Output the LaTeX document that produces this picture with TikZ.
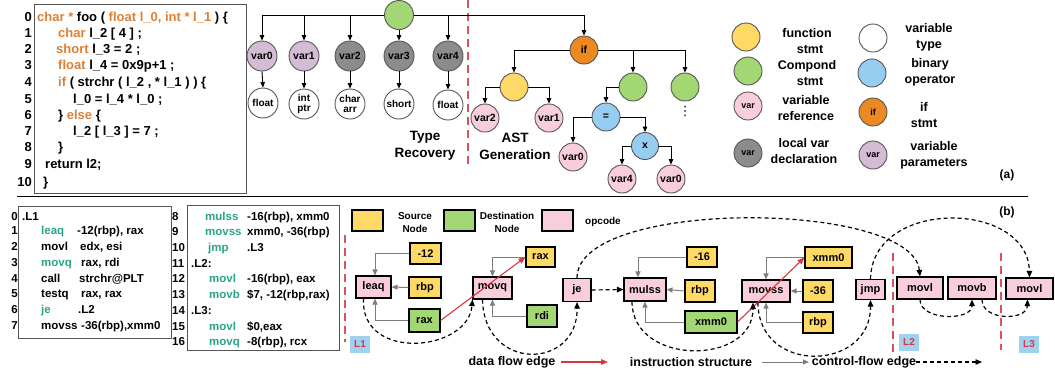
\documentclass[tikz,border=0pt]{standalone}
\usepackage{fontspec}
\setmainfont{Liberation Sans}
\newfontfamily\djv{DejaVu Sans}
\usetikzlibrary{arrows.meta}
\definecolor{cyel}{RGB}{255,217,102}
\definecolor{cgrn}{RGB}{163,215,115}
\definecolor{cpink}{RGB}{248,206,220}
\definecolor{cblue}{RGB}{150,205,240}
\definecolor{corg}{RGB}{236,137,34}
\definecolor{cdgray}{RGB}{140,140,140}
\definecolor{cpur}{RGB}{213,188,213}
\definecolor{cbord}{RGB}{85,85,85}
\definecolor{ckw}{RGB}{222,128,52}
\definecolor{cteal}{RGB}{40,165,135}
\definecolor{cred}{RGB}{215,55,65}
\definecolor{cdash}{RGB}{220,80,90}
\definecolor{clab}{RGB}{160,210,240}
\definecolor{cgarr}{RGB}{125,125,125}
\newcommand\kw[1]{\textcolor{ckw}{#1}}
\newcommand\tl[1]{\textcolor{cteal}{#1}}
\newcommand\sz[2]{\fontsize{#1}{#2}\selectfont\bfseries}
\begin{document}
\begin{tikzpicture}[x=1pt,y=-1pt,
  circ/.style={circle,draw=cbord,line width=0.9pt,inner sep=0pt,minimum size=#1},
  vc/.style={circ=30,font=\sz{10.5}{11}},
  ac/.style={circ=28,font=\sz{10.5}{11}},
  lc/.style={circ=28,font=\sz{9}{10}},
  tc/.style={circ=30,font=\sz{10}{11.5},align=center},
  tarr/.style={-{Triangle[length=5.5pt,width=4.5pt]},line width=0.9pt,black},
  code/.style={anchor=west,inner sep=0pt,text height=9.5pt,text depth=2.7pt,font=\sz{13}{15}},
  lnum/.style={anchor=east,inner sep=0pt,text height=9.5pt,text depth=2.7pt,font=\sz{13}{15}},
  acode/.style={anchor=west,inner sep=0pt,text height=8.5pt,text depth=2.4pt,font=\sz{11.5}{13}},
  bnum/.style={inner sep=0pt,text height=8.5pt,text depth=2.4pt,font=\sz{11.5}{13}},
  leg/.style={align=center,inner sep=0pt,font=\sz{12.5}{16}},
  box/.style={draw=black,line width=1.1pt,inner sep=0pt,font=\sz{11}{12}},
  garr/.style={-{Triangle[length=6pt,width=5pt]},line width=1pt,cgarr},
  rarr/.style={-{Triangle[length=7pt,width=5.5pt]},line width=1.1pt,cred},
  cflow/.style={-{Triangle[length=6.5pt,width=5.5pt]},line width=1.2pt,black,dash pattern=on 4pt off 3pt},
  rdash/.style={line width=1.3pt,cdash,dash pattern=on 8pt off 5pt},
  lab/.style={fill=clab,text=cred,inner sep=0pt,minimum width=20,minimum height=17,font=\sz{10}{11}},
  gleg/.style={inner sep=0pt,align=center,font=\sz{10}{13.5}},
  bleg/.style={inner sep=0pt,font=\sz{12.5}{14}}
]
\useasboundingbox (0,0) rectangle (1055,373);

% ---------------- top code box
\node[draw=cbord,line width=1pt,minimum width=212,minimum height=189,anchor=north west,inner sep=0] (cbox) at (34,4) {};
\foreach \i/\yy in {0/18,1/34,2/50,3/66,4/83,5/100,6/116,7/132,8/148,9/165,10/183}{
  \node[lnum] (n\i) at (32,\yy) {\i};
}
\node[code] (c0) at (37,18) {\kw{char *} foo ( \kw{float l\_0, int * l\_1} ) \{};
\node[code] (c1) at (58,34) {\kw{char} l\_2 [ 4 ] ;};
\node[code] (c2) at (56,50) {\kw{short} l\_3 = 2 ;};
\node[code] (c3) at (58,66) {\kw{float} l\_4 = 0x9p+1 ;};
\node[code] (c4) at (58,83) {\kw{if} ( strchr ( l\_2 , * l\_1 ) ) \{};
\node[code] (c5) at (73,100) {l\_0 = l\_4 * l\_0 ;};
\node[code] (c6) at (58,116) {\} \kw{else} \{};
\node[code] (c7) at (73,132) {l\_2 [ l\_3 ] = 7 ;};
\node[code] (c8) at (58,148) {\}};
\node[code] (c9) at (45,165) {return l2;};
\node[code] (c10) at (43,183) {\}};

% ---------------- type recovery tree
\node[circ=29,fill=cgrn] (root) at (399,15) {};
\node[vc,fill=cpur] (v0) at (262,56) {var0};
\node[vc,fill=cpur] (v1) at (304,56) {var1};
\node[vc,fill=cdgray] (v2) at (350,56) {var2};
\node[vc,fill=cdgray] (v3) at (399,56) {var3};
\node[vc,fill=cdgray] (v4) at (448,56) {var4};
\node[tc,fill=white] (ty0) at (263,103) {float};
\node[tc,fill=white] (ty1) at (304,104) {int\\[-1pt]ptr};
\node[tc,fill=white] (ty2) at (350,104) {char\\[-1pt]arr};
\node[tc,fill=white] (ty3) at (399,104) {short};
\node[tc,fill=white] (ty4) at (448,105) {float};
\draw[tarr] (root.west) -| (v0.north);
\draw[tarr] (root.west) -| (v1.north);
\draw[tarr] (root.west) -| (v2.north);
\draw[tarr] (root.south) -- (v3.north);
\draw[tarr] (root.east) -| (v4.north);
\foreach \a/\b in {v0/ty0,v1/ty1,v2/ty2,v3/ty3,v4/ty4}{\draw[tarr] (\a.south) -- (\b.north);}
\node[leg,font=\sz{13.5}{17}] (trec) at (425,146) {Type\\Recovery};
\draw[rdash] (468,0) -- (468,167);

% ---------------- AST tree
\node[ac,fill=corg] (if) at (584,50) {if};
\draw[tarr] (root.east) -| (if.north);
\node[ac,fill=cyel] (fs) at (514,87) {};
\node[ac,fill=cgrn] (g1) at (633,87) {};
\node[ac,fill=cgrn] (g2) at (685,87) {};
\node[inner sep=0pt,font=\djv\fontsize{13}{13}\selectfont] (dots) at (685,111) {⋮};
\node[ac,fill=cpink] (p2) at (485,118) {var2};
\node[ac,fill=cpink] (p1) at (549,118) {var1};
\node[ac,fill=cblue] (eq) at (606,117) {=};
\node[ac,fill=cpink] (p0a) at (573,157) {var0};
\node[circ=27,fill=cblue,font=\sz{10.5}{11}] (xx) at (645,146) {x};
\node[ac,fill=cpink] (p4) at (622,179) {var4};
\node[ac,fill=cpink] (p0b) at (671,179) {var0};
\draw[tarr] (if.west) -| (fs.north);
\draw[tarr] (if.east) -| (g1.north);
\draw[tarr] (if.east) -| (g2.north);
\draw[tarr] (fs.west) -| (p2.north);
\draw[tarr] (fs.east) -| (p1.north);
\draw[tarr] (g1.west) -| (eq.north);
\draw[tarr] (eq.west) -| (p0a.north);
\draw[tarr] (eq.east) -| (xx.north);
\draw[tarr] (xx.west) -| (p4.north);
\draw[tarr] (xx.east) -| (p0b.north);
\node[leg,font=\sz{13.5}{17}] (astg) at (515,146) {AST\\Generation};

% ---------------- legend (a)
\node[lc,fill=cyel] (l1) at (746,37) {};
\node[leg] (l1t) at (807,41) {function\\\hspace*{6pt}stmt};
\node[lc,fill=cgrn] (l2) at (748,71) {};
\node[leg] (l2t) at (807,73) {Compond\\\hspace*{6pt}stmt};
\node[lc,fill=cpink] (l3) at (748,106) {var};
\node[leg] (l3t) at (806,108) {variable\\reference};
\node[lc,fill=cdgray] (l4) at (748,153) {var};
\node[leg] (l4t) at (804,151) {local var\\declaration};
\node[lc,fill=white] (l5) at (873,38) {};
\node[leg] (l5t) at (929,37) {variable\\type};
\node[lc,fill=cblue] (l6) at (872,73) {};
\node[leg] (l6t) at (930,72) {binary\\operator};
\node[lc,fill=corg] (l7) at (873,112) {if};
\node[leg] (l7t) at (924,115) {if\\stmt};
\node[lc,fill=cpur] (l8) at (873,155) {var};
\node[leg] (l8t) at (934,155) {variable\\parameters};
\node[inner sep=0pt,font=\sz{12}{13}] (pa) at (1007,175) {(a)};

% ---------------- separator
\draw[line width=1pt] (17,196) -- (1028,196);
\node[inner sep=0pt,font=\sz{12}{13}] (pb) at (1007,212) {(b)};

% ---------------- assembly code
\node[draw=cbord,line width=1pt,minimum width=153,minimum height=132,anchor=north west,inner sep=0] (abox1) at (18,206) {};
\node[draw=cbord,line width=1pt,minimum width=152,minimum height=145,anchor=north west,inner sep=0] (abox2) at (187,205) {};
\foreach \i/\yy in {0/217,1/231,2/247,3/263,4/279,5/294,6/310,7/326}{
  \node[bnum,anchor=east] (an\i) at (18,\yy) {\i};
}
\foreach \i/\yy in {8/217,9/232,10/248,11/264,12/279,13/295,14/311,15/327,16/342}{
  \node[bnum,anchor=west] (an\i) at (172,\yy) {\i};
}
\node[acode] (a0) at (22,217) {.L1};
\node[acode] (a1m) at (41,231) {\tl{leaq}};  \node[acode] (a1o) at (77,231) {-12(rbp), rax};
\node[acode] (a2m) at (41,247) {movl};        \node[acode] (a2o) at (80,247) {edx, esi};
\node[acode] (a3m) at (41,263) {\tl{movq}};  \node[acode] (a3o) at (81,263) {rax, rdi};
\node[acode] (a4m) at (41,279) {call};        \node[acode] (a4o) at (79,279) {strchr@PLT};
\node[acode] (a5m) at (41,294) {testq};       \node[acode] (a5o) at (81,294) {rax, rax};
\node[acode] (a6m) at (41,310) {\tl{je}};    \node[acode] (a6o) at (78,310) {.L2};
\node[acode] (a7m) at (41,326) {movss};       \node[acode] (a7o) at (81,326) {-36(rbp),xmm0};
\node[acode] (a8m) at (205,217) {\tl{mulss}}; \node[acode] (a8o) at (247,217) {-16(rbp), xmm0};
\node[acode] (a9m) at (205,232) {\tl{movss}}; \node[acode] (a9o) at (247,232) {xmm0, -36(rbp)};
\node[acode] (a10m) at (208,248) {\tl{jmp}};  \node[acode] (a10o) at (247,248) {.L3};
\node[acode] (a11) at (191,264) {.L2:};
\node[acode] (a12m) at (209,279) {\tl{movl}}; \node[acode] (a12o) at (247,279) {-16(rbp), eax};
\node[acode] (a13m) at (209,295) {\tl{movb}}; \node[acode] (a13o) at (247,295) {\$7, -12(rbp,rax)};
\node[acode] (a14) at (191,311) {.L3:};
\node[acode] (a15m) at (209,327) {\tl{movl}}; \node[acode] (a15o) at (247,327) {\$0,eax};
\node[acode] (a16m) at (209,342) {\tl{movq}}; \node[acode] (a16o) at (247,342) {-8(rbp), rcx};

% ---------------- graph legend
\node[box,fill=cyel,minimum width=31,minimum height=21] (ly) at (367.5,220.5) {};
\node[gleg] (lyt) at (415,222.5) {Source\\Node};
\node[box,fill=cgrn,minimum width=31,minimum height=21] (lg) at (459.5,220.5) {};
\node[gleg] (lgt) at (507,222.5) {Destination\\Node};
\node[box,fill=cpink,minimum width=31,minimum height=21] (lp) at (557.5,220.5) {};
\node[gleg] (lpt) at (603,222) {opcode};

% ---------------- region lines and labels
\draw[rdash] (345,235) -- (345,342);
\draw[rdash] (893,253) -- (893,353);
\draw[rdash] (1001,253) -- (1001,350);
\node[lab] (L1) at (360,344) {L1};
\node[lab] (L2) at (909,342) {L2};
\node[lab] (L3) at (1029,344) {L3};

% ---------------- graph nodes
\node[box,fill=cpink,minimum width=35,minimum height=22] (leaq) at (373.5,287) {leaq};
\node[box,fill=cyel,minimum width=31,minimum height=21] (m12) at (425.5,253.5) {-12};
\node[box,fill=cyel,minimum width=32,minimum height=21] (rbpA) at (425,287.5) {rbp};
\node[box,fill=cgrn,minimum width=31,minimum height=23] (raxg) at (424.5,320.5) {rax};
\node[box,fill=cpink,minimum width=39,minimum height=22] (movq) at (492.5,288) {movq};
\node[box,fill=cyel,minimum width=29,minimum height=20] (raxy) at (540.5,257) {rax};
\node[box,fill=cgrn,minimum width=30,minimum height=22] (rdi) at (542,316) {rdi};
\node[box,fill=cpink,minimum width=28,minimum height=23] (je) at (577,290) {je};
\node[box,fill=cpink,minimum width=42,minimum height=23] (mulss) at (645,289.5) {mulss};
\node[box,fill=cyel,minimum width=30,minimum height=20] (m16) at (702,257) {-16};
\node[box,fill=cyel,minimum width=30,minimum height=22] (rbpB) at (700,291) {rbp};
\node[box,fill=cgrn,minimum width=52,minimum height=22] (xmmg) at (711,322) {xmm0};
\node[box,fill=cpink,minimum width=48,minimum height=22] (movss) at (766,291) {movss};
\node[box,fill=cyel,minimum width=47,minimum height=21] (xmmy) at (828.5,257.5) {xmm0};
\node[box,fill=cyel,minimum width=30,minimum height=22] (m36) at (818,291) {-36};
\node[box,fill=cyel,minimum width=30,minimum height=21] (rbpC) at (818,322.5) {rbp};
\node[box,fill=cpink,minimum width=29,minimum height=20] (jmp) at (870.5,289.5) {jmp};
\node[box,fill=cpink,minimum width=46,minimum height=22] (movlA) at (920,288) {movl};
\node[box,fill=cpink,minimum width=48,minimum height=22] (movb) at (972,288) {movb};
\node[box,fill=cpink,minimum width=47,minimum height=21] (movlB) at (1029.5,288.5) {movl};

% instruction structure (gray)
\draw[garr] (m12.west) -| ([xshift=1.5pt]leaq.north);
\draw[garr] (rbpA.west) -- (leaq.east);
\draw[garr] (raxg.west) -| ([xshift=1.5pt]leaq.south);
\draw[garr] (raxy.west) -| (movq.north);
\draw[garr] (rdi.west) -| (movq.south);
\draw[garr] (m16.west) -| ([xshift=-7pt]mulss.north);
\draw[garr] (rbpB.west) -- (mulss.east);
\draw[garr] (xmmg.west) -| (mulss.south);
\draw[garr] (xmmy.west) -| (movss.north);
\draw[garr] (m36.west) -- (movss.east);
\draw[garr] (rbpC.west) -| (movss.south);

% data flow (red)
\draw[rarr] (raxg.east) -- (raxy.west);
\draw[rarr] (xmmg.east) -- (xmmy.west);

% control flow (dashed)
\draw[cflow] ([xshift=-10pt]leaq.south) .. controls (360,362) and (468,352) .. ([xshift=-20pt]movq.south);
\draw[cflow] ([xshift=-10pt]movq.south) .. controls (484,372) and (578,370) .. (je.south);
\draw[cflow] (je.east) -- (mulss.west);
\draw[cflow] (je.north) .. controls (577,198) and (912,200) .. (movlA.north);
\draw[cflow] ([xshift=-13pt]mulss.south) .. controls (632,366) and (753,366) .. ([xshift=-13pt]movss.south);
\draw[cflow] ([xshift=-8pt]movss.south) .. controls (758,375) and (871,372) .. (jmp.south);
\draw[cflow] (jmp.north) .. controls (872,198) and (1028,200) .. (movlB.north);
\draw[cflow] (movlA.south) .. controls (920,321) and (972,321) .. (movb.south);
\draw[cflow] ([xshift=10pt]movb.south) .. controls (982,321) and (1027,321) .. ([xshift=-2pt]movlB.south);

% bottom legend
\node[bleg] (dfe) at (512,362) {data flow edge};
\coordinate (dfa) at (608,362);
\draw[rarr] ([xshift=5pt]dfe.east) -- (dfa);
\node[bleg] (ise) at (691,362) {instruction structure};
\coordinate (isa) at (809,362);
\draw[garr] ([xshift=10pt]ise.east) -- (isa);
\node[bleg] (cfe) at (864,362) {control-flow edge};
\coordinate (cfa) at (982,362);
\draw[cflow] (cfe.east) -- (cfa);
\end{tikzpicture}
\end{document}
